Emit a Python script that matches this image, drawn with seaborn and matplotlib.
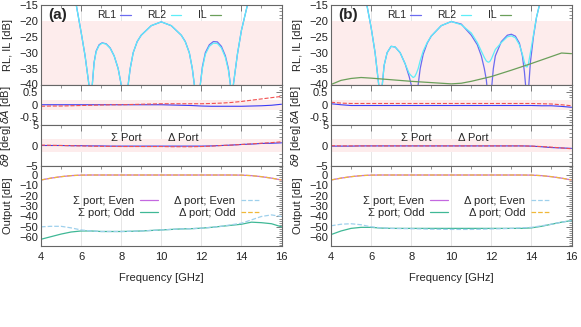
import matplotlib.pyplot as plt
import seaborn as sns
from matplotlib.lines import Line2D
from matplotlib.ticker import MultipleLocator

# ---- data ----
# return loss, panel (a)
freq_rl_a = [5.0, 5.5, 5.76, 6.0, 6.2, 6.39, 6.47, 6.56, 6.65, 6.75, 6.9, 7.05, 7.25, 7.45, 7.65, 7.85,
             8.0, 8.18, 8.35, 8.45, 8.6, 8.8, 9.0, 9.5, 10.0, 10.5, 11.0, 11.2, 11.4, 11.55, 11.65, 11.83,
             11.95, 12.05, 12.2, 12.4, 12.6, 12.8, 13.0, 13.2, 13.35, 13.45, 13.52, 13.6, 13.8, 14.0, 14.3, 14.6]
rl1_a = [-8, -11.5, -15, -23.5, -31, -40, -52, -40, -33, -29.5, -27.5, -26.9, -27.2, -28.5, -31, -35,
         -40, -52, -40, -35, -30, -26.5, -24.5, -21.5, -20.3, -21.5, -24.5, -26.5, -30, -35, -40, -52,
         -40, -34.5, -30, -27.5, -26.5, -26.6, -28, -31, -35, -40, -52, -40, -30.5, -23, -15, -11]
rl2_a = [-8, -11.5, -15, -23.5, -31, -40, -50, -40, -33.2, -29.7, -27.7, -27.0, -27.3, -28.6, -31, -35,
         -40, -50, -40, -35, -30, -26.5, -24.5, -21.5, -20.3, -21.5, -24.5, -26.6, -30, -35, -40, -50,
         -40, -35, -30.5, -28, -27, -27.1, -28.5, -31.5, -35.5, -40, -50, -40, -30.5, -23, -15, -11]

# return loss, panel (b)
freq_rl_b = [5.0, 5.5, 5.79, 6.0, 6.2, 6.38, 6.47, 6.56, 6.65, 6.8, 7.0, 7.2, 7.45, 7.7, 7.9, 8.0, 8.1,
             8.18, 8.26, 8.35, 8.45, 8.6, 8.8, 9.0, 9.5, 10.0, 10.5, 11.0, 11.3, 11.5, 11.65, 11.75, 11.85,
             11.92, 12.0, 12.1, 12.2, 12.5, 12.8, 13.0, 13.2, 13.4, 13.55, 13.65, 13.72, 13.78, 13.85,
             13.95, 14.1, 14.25, 14.4, 14.6]
rl1_b = [-8, -11.5, -15, -22, -30, -40, -52, -40, -34, -30, -28, -28.2, -30, -33.5, -37.5, -40, -45,
         -52, -45, -40, -35, -30.5, -27, -24.8, -21.5, -20.2, -21, -24.5, -27.5, -31, -35, -38.5, -45,
         -52, -42, -35, -31, -26.5, -24.5, -24.2, -24.8, -27, -31, -36, -41, -52, -42,
         -33, -25, -19, -15, -11]
rl2_b = [-8, -11.5, -15, -22, -30, -40, -46, -40, -34, -30, -28, -28.2, -30, -33.5, -36.5, -37.2, -37.8,
         -37.5, -36.5, -35, -32.5, -29.5, -26.8, -24.8, -21.5, -20.2, -21.2, -23.8, -26.8, -29.5, -31.5, -32.6, -33,
         -32.8, -32, -30.5, -29, -26.8, -25, -24.7, -25.3, -27.5, -30.5, -33, -34.3, -34.5, -33.5,
         -30, -24.5, -19, -15, -11]

freq_il_b = [4.0, 4.5, 5.0, 5.5, 6.0, 7.0, 8.0, 9.0, 10.0, 10.5, 11.0, 12.0, 13.0, 14.0, 15.0, 15.5, 16.0]
il_b = [-40, -38.7, -38.1, -37.8, -38, -38.5, -39, -39.4, -39.8, -39.6, -39, -37.5, -35.5, -33.4, -31.2, -30.1, -30.3]

# half-GHz grid for the remaining curves
freq = [4.0, 4.5, 5.0, 5.5, 6.0, 6.5, 7.0, 7.5, 8.0, 8.5, 9.0, 9.5, 10.0, 10.5, 11.0, 11.5,
        12.0, 12.5, 13.0, 13.5, 14.0, 14.5, 15.0, 15.5, 16.0]

# amplitude imbalance [dB]
dA_sum_a = [0.0, 0.0, 0.0, 0.0, 0.0, 0.0, 0.0, 0.0, 0.0, 0.0, 0.0, 0.0, 0.0, -0.01, -0.02, -0.03,
            -0.05, -0.06, -0.06, -0.06, -0.06, -0.05, -0.04, -0.02, 0.02]
dA_diff_a = [-0.06, -0.05, -0.05, -0.04, -0.03, -0.02, -0.01, 0.0, 0.0, 0.01, 0.02, 0.03, 0.04, 0.04, 0.04, 0.04,
             0.04, 0.05, 0.065, 0.09, 0.13, 0.18, 0.23, 0.28, 0.33]
dA_sum_b = [0.04, 0.0, -0.03, -0.03, -0.03, -0.03, -0.03, -0.03, -0.03, -0.03, -0.03, -0.03, -0.03, -0.03,
            -0.03, -0.03, -0.03, -0.03, -0.03, -0.03, -0.03, -0.04, -0.04, -0.065, -0.1]
dA_diff_b = [0.1, 0.065, 0.05, 0.05, 0.05, 0.05, 0.05, 0.05, 0.05, 0.05, 0.05, 0.05, 0.05, 0.05, 0.05, 0.05,
             0.05, 0.05, 0.05, 0.05, 0.05, 0.04, 0.03, 0.0, -0.04]

# phase imbalance [deg]
dth_sum_a = [0.0, 0.0, 0.0, -0.05, -0.05, -0.1, -0.1, -0.15, -0.15, -0.15, -0.15, -0.15, -0.15, -0.15,
             -0.15, -0.15, -0.15, -0.1, 0.0, 0.1, 0.25, 0.35, 0.5, 0.55, 0.65]
dth_diff_a = [0.1, 0.05, 0.0, -0.05, -0.1, -0.15, -0.2, -0.2, -0.25, -0.25, -0.25, -0.25, -0.25, -0.3,
              -0.3, -0.3, -0.25, -0.15, 0.0, 0.1, 0.25, 0.4, 0.55, 0.7, 0.9]
dth_sum_b = [-0.15, -0.15, -0.15, -0.1, -0.1, -0.1, -0.1, -0.1, -0.1, -0.1, -0.1, -0.1, -0.1, -0.1, -0.1,
             -0.1, -0.1, -0.1, -0.1, -0.1, -0.15, -0.3, -0.5, -0.6, -0.7]
dth_diff_b = [-0.05, -0.1, -0.1, -0.1, -0.1, -0.1, -0.1, -0.1, -0.1, -0.1, -0.1, -0.1, -0.1, -0.1, -0.1,
              -0.1, -0.1, -0.1, -0.1, -0.1, -0.15, -0.25, -0.4, -0.6, -0.8]

# output levels [dB]
even_out = [-4.8, -3.0, -1.6, -0.6, -0.1, 0.0, 0.0, 0.0, 0.0, 0.0, 0.0, 0.0, 0.0, 0.0, 0.0, 0.0,
            0.0, 0.0, 0.0, 0.0, -0.1, -0.6, -1.6, -3.0, -4.8]
sum_odd_a = [-62, -59.5, -57, -55, -54, -54, -54.5, -54.5, -54.5, -54.3, -54, -53.5, -53, -52.5, -52, -51.8,
             -51.3, -50.5, -49.5, -48.5, -47.5, -45.5, -46, -47, -50]
diff_even_a = [-50, -49.5, -49.5, -51, -53, -54, -54.5, -54.5, -54.5, -54.3, -54, -53.5, -53, -52.5, -52,
               -51.8, -51.3, -50.5, -49.5, -48, -46.5, -43.3, -40, -38.5, -40]
sum_odd_b = [-57.5, -54, -51.5, -50.5, -50.5, -51.2, -51.5, -51.5, -51.5, -51.5, -51.5, -51.5, -51.5, -51.5,
             -51.5, -51.5, -51.5, -51.5, -51.5, -51.5, -51, -49.5, -47.5, -45.5, -44]
diff_even_b = [-49, -47.5, -47, -48, -50, -51, -51.5, -51.7, -51.8, -52, -52.3, -52.4, -52.5, -52.5, -52.5,
               -52.3, -52, -51.8, -51.5, -51, -50.5, -49, -47.5, -45.5, -44]

panels = [
    dict(tag='(a)', rl1=rl1_a, rl2=rl2_a, f_rl=freq_rl_a, il=None,
         dA=(dA_sum_a, dA_diff_a), dth=(dth_sum_a, dth_diff_a), odd=sum_odd_a, dev=diff_even_a, left=41),
    dict(tag='(b)', rl1=rl1_b, rl2=rl2_b, f_rl=freq_rl_b, il=il_b,
         dA=(dA_sum_b, dA_diff_b), dth=(dth_sum_b, dth_diff_b), odd=sum_odd_b, dev=diff_even_b, left=331),
]

c_rl1, c_rl2, c_il = '#6b6bf0', '#5eeef8', '#6a9f5a'
c_sum, c_diff = '#3b3bf5', '#f25050'
c_se, c_so, c_de, c_do = '#c468e0', '#3fb896', '#9ed0ec', '#f0b838'
pink = '#fdecec'

sns.set_theme(style='white')
plt.rcParams['font.family'] = ['Liberation Sans', 'DejaVu Sans']
plt.rcParams['mathtext.fontset'] = 'dejavusans'

W, H = 581, 327
fig = plt.figure(figsize=(W / 100, H / 100), dpi=100)
rows = [(5, 84.5), (84.5, 125), (125, 166), (166, 246)]


def style(ax, bottom=False):
    ax.set_xlim(4, 16)
    ax.xaxis.set_major_locator(MultipleLocator(2))
    ax.xaxis.set_minor_locator(MultipleLocator(1))
    ax.tick_params(which='both', direction='in', top=True, right=True, color='#666666',
                   labelcolor='#222222', labelsize=8, pad=2)
    ax.tick_params(axis='x', pad=4)
    ax.tick_params(which='major', length=4, width=0.6)
    ax.tick_params(which='minor', length=2, width=0.5)
    ax.grid(axis='x', which='major', color='#e2e2e2', linewidth=0.6)
    ax.set_axisbelow(True)
    for s in ax.spines.values():
        s.set_color('#666666')
        s.set_linewidth(0.8)
    if not bottom:
        ax.tick_params(labelbottom=False)
    ax.set_xlabel('')
    ax.yaxis.set_label_coords(-0.115, 0.5)


for p in panels:
    axes = []
    for top, bot in rows:
        axes.append(fig.add_axes([p['left'] / W, 1 - bot / H, 240.5 / W, (bot - top) / H]))
    ax_rl, ax_da, ax_dt, ax_out = axes

    # RL / IL
    ax_rl.axhspan(-40, -20, color=pink, lw=0)
    sns.lineplot(x=p['f_rl'], y=p['rl1'], ax=ax_rl, color=c_rl1, linewidth=0.9)
    sns.lineplot(x=p['f_rl'], y=p['rl2'], ax=ax_rl, color=c_rl2, linewidth=0.9)
    if p['il'] is not None:
        sns.lineplot(x=freq_il_b, y=p['il'], ax=ax_rl, color=c_il, linewidth=0.9)
    handles = [Line2D([], [], color=c_rl1, lw=0.9), Line2D([], [], color=c_rl2, lw=0.9),
               Line2D([], [], color=c_il, lw=0.9)]
    ax_rl.legend(handles, ['RL1', 'RL2', 'IL'], loc='center', bbox_to_anchor=(0.49, 0.87), ncol=3,
                 markerfirst=False, frameon=False, fontsize=7.5, handlelength=1.0, handletextpad=0.4,
                 columnspacing=1.6, borderpad=0)
    ax_rl.set_ylim(-40, -15)
    ax_rl.yaxis.set_major_locator(MultipleLocator(5))
    ax_rl.yaxis.set_minor_locator(MultipleLocator(1))
    ax_rl.set_ylabel('RL, IL [dB]', fontsize=8)
    ax_rl.text(0.03, 0.87, p['tag'], transform=ax_rl.transAxes, fontsize=11, fontweight='bold',
               va='center', ha='left')

    # amplitude imbalance
    ax_da.axhspan(-0.2, 0.2, color=pink, lw=0)
    sns.lineplot(x=freq, y=p['dA'][0], ax=ax_da, color=c_sum, linewidth=0.8)
    sns.lineplot(x=freq, y=p['dA'][1], ax=ax_da, color=c_diff, linewidth=0.8, linestyle='--')
    ax_da.set_ylim(-0.8, 0.8)
    ax_da.set_yticks([-0.5, 0, 0.5])
    ax_da.set_yticklabels(['-0.5', '0', '0.5'])
    ax_da.yaxis.set_minor_locator(MultipleLocator(0.1))
    ax_da.set_ylabel(r'$\delta A$ [dB]', fontsize=8)

    # phase imbalance
    ax_dt.axhspan(-1.6, 1.6, color=pink, lw=0)
    sns.lineplot(x=freq, y=p['dth'][0], ax=ax_dt, color=c_sum, linewidth=0.8)
    sns.lineplot(x=freq, y=p['dth'][1], ax=ax_dt, color=c_diff, linewidth=0.8, linestyle='--')
    ax_dt.set_ylim(-5, 5)
    ax_dt.set_yticks([-5, 0, 5])
    ax_dt.yaxis.set_minor_locator(MultipleLocator(1))
    ax_dt.set_ylabel(r'$\delta\theta$ [deg]', fontsize=8)
    ax_dt.text(0.29, 0.69, 'Σ Port', transform=ax_dt.transAxes, fontsize=8, va='center', ha='left')
    ax_dt.text(0.53, 0.69, 'Δ Port', transform=ax_dt.transAxes, fontsize=8, va='center', ha='left')

    # output levels
    l1 = sns.lineplot(x=freq, y=even_out, ax=ax_out, color=c_se, linewidth=0.9).lines[-1]
    l2 = sns.lineplot(x=freq, y=p['odd'], ax=ax_out, color=c_so, linewidth=0.9).lines[-1]
    l3 = sns.lineplot(x=freq, y=p['dev'], ax=ax_out, color=c_de, linewidth=0.9, linestyle='--').lines[-1]
    l4 = sns.lineplot(x=freq, y=even_out, ax=ax_out, color=c_do, linewidth=0.9, linestyle='--').lines[-1]
    ax_out.legend([l1, l2, l3, l4], ['Σ port; Even', 'Σ port; Odd', 'Δ port; Even', 'Δ port; Odd'],
                  loc='center', bbox_to_anchor=(0.52, 0.49), ncol=2, markerfirst=False, frameon=False,
                  fontsize=8, handlelength=1.6, handletextpad=0.5, columnspacing=1.5,
                  labelspacing=0.15, borderpad=0)
    ax_out.set_ylim(-68.5, 8.7)
    ax_out.set_yticks([-60, -50, -40, -30, -20, -10, 0])
    ax_out.yaxis.set_minor_locator(MultipleLocator(2))
    ax_out.set_ylabel('Output [dB]', fontsize=8)

    for ax in axes:
        style(ax, bottom=(ax is ax_out))
    ax_out.set_xlabel('Frequency [GHz]', fontsize=8, labelpad=8)

fig.savefig('out.png', dpi=100)
